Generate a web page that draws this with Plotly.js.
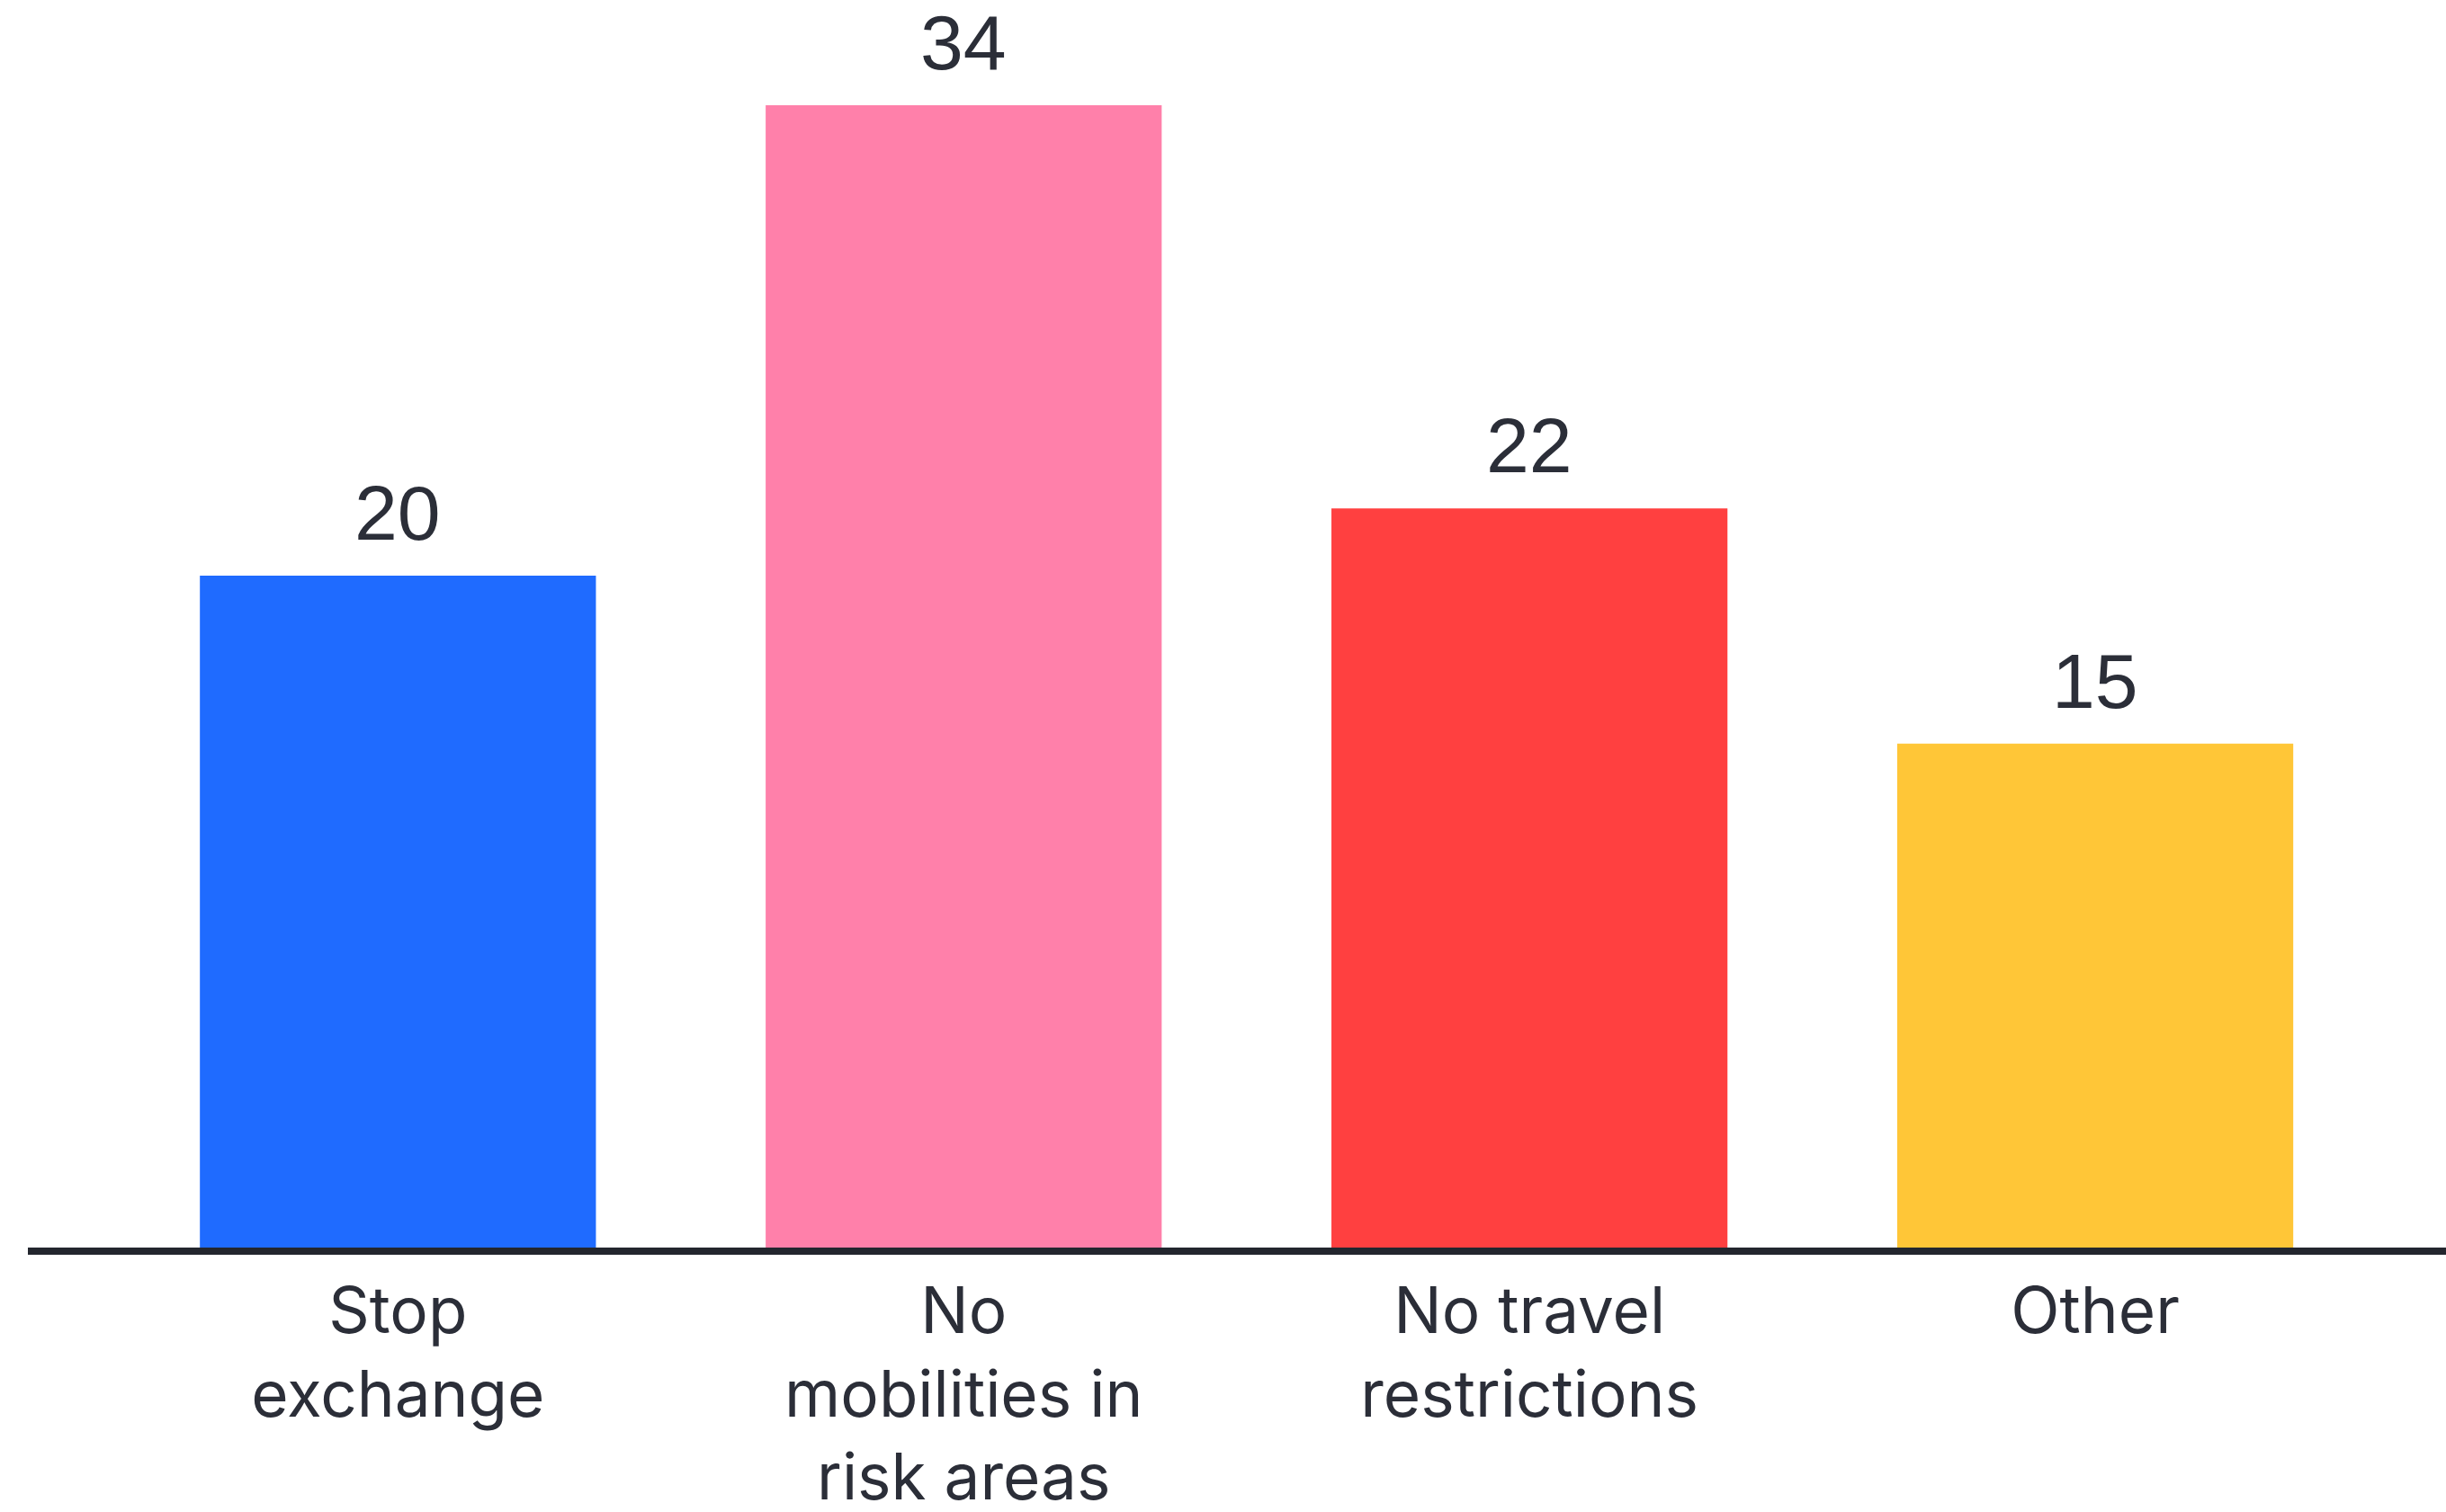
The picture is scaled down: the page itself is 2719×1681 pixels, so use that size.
<!DOCTYPE html>
<html>
<head>
<meta charset="utf-8">
<script src="https://cdn.plot.ly/plotly-3.0.1.min.js"></script>
<style>html,body{margin:0;padding:0;background:#fff;}#chart{width:2719px;height:1681px;}</style>
</head>
<body>
<div id="chart"></div>
<script>
const categories = ["Stop exchange", "No mobilities in risk areas", "No travel restrictions", "Other"];
const tickLabels = ["Stop<br>exchange", "No<br>mobilities in<br>risk areas", "No travel<br>restrictions", "Other"];
const values = [20, 34, 22, 15];
const barColors = ["#1F6BFF", "#FF80AA", "#FF4040", "#FFC637"];

const textColor = "#2B2E38";

const trace = {
  type: "bar",
  x: categories,
  y: values,
  marker: { color: barColors, line: { width: 0 } },
  hoverinfo: "none"
};

const annotations = categories.map((c, i) => ({
  x: c,
  y: values[i],
  xref: "x",
  yref: "y",
  text: String(values[i]),
  showarrow: false,
  yanchor: "bottom",
  yshift: 20,
  font: { family: "Liberation Sans, Arial, sans-serif", size: 86, color: textColor }
}));

const layout = {
  width: 2719,
  height: 1681,
  margin: { l: 31, r: 0, t: 0, b: 294 },
  paper_bgcolor: "#ffffff",
  plot_bgcolor: "#ffffff",
  bargap: 0.3,
  showlegend: false,
  xaxis: {
    type: "category",
    range: [-0.654, 3.62],
    tickvals: categories,
    ticktext: tickLabels,
    showline: true,
    linecolor: "#23262E",
    linewidth: 8,
    ticks: "",
    showgrid: false,
    zeroline: false,
    ticklabelstandoff: 2,
    tickfont: { family: "Inter, Noto Sans, sans-serif", size: 71, color: textColor },
    fixedrange: true
  },
  yaxis: {
    range: [0, 37.13],
    showgrid: false,
    zeroline: false,
    showline: false,
    showticklabels: false,
    ticks: "",
    fixedrange: true
  },
  annotations: annotations
};

Plotly.newPlot("chart", [trace], layout, { displayModeBar: false, staticPlot: true });
</script>
</body>
</html>
